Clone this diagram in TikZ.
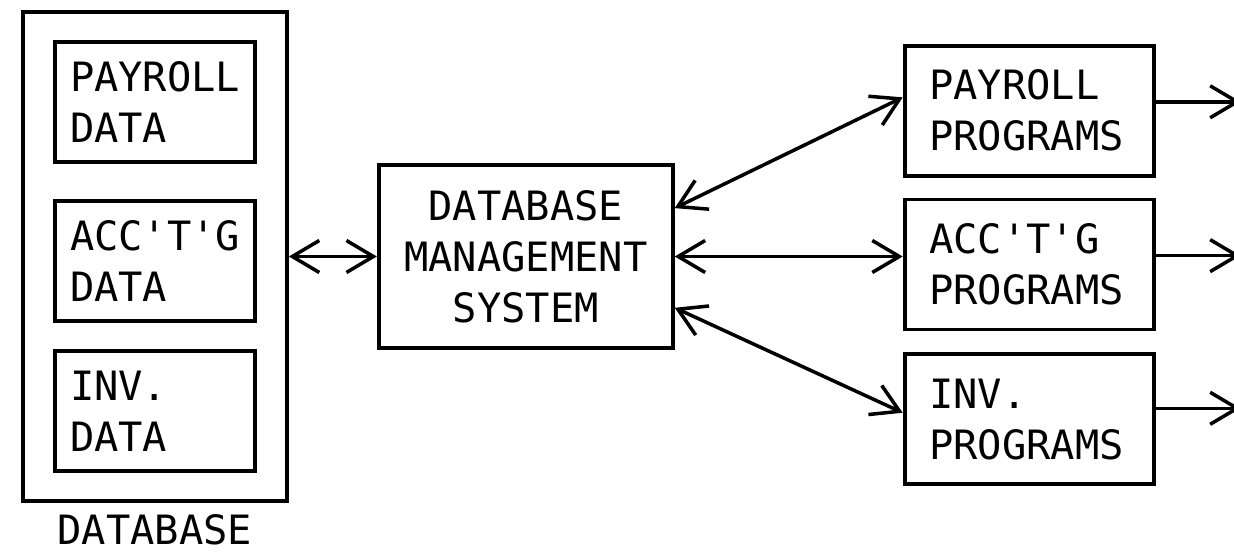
\documentclass[tikz,border=0pt]{standalone}
\usepackage{fontspec}
\setmonofont{DejaVu Sans Mono}
\usetikzlibrary{arrows.meta, positioning, fit}
\tikzset{
  box/.style={rectangle, draw, line width=2.2pt, font=\ttfamily\fontsize{23}{29}\selectfont},
  databox/.style={box, minimum width=4cm, minimum height=2.4cm, text width=3.4cm, align=left},
  progbox/.style={box, minimum width=4.98cm, minimum height=2.6cm, text width=4.0cm, align=left},
  arrow/.style={line width=2pt, -{Straight Barb[length=5.4mm, width=6.4mm]}},
  twoway/.style={line width=2pt, {Straight Barb[length=5.4mm, width=6.4mm]}-{Straight Barb[length=5.4mm, width=6.4mm]}}
}

\begin{document}
\begin{tikzpicture}[node distance=0.6cm and 1.76cm]
\useasboundingbox (0,0) rectangle (24.68,-11.06);

% Data inside the database
\node[databox] (acctdata) at (3.10,-5.22) {ACC'T'G\\ DATA};
\node[databox, above=0.7cm of acctdata] (paydata) {PAYROLL\\ DATA};
\node[databox, below=0.52cm of acctdata] (invdata) {INV.\\ DATA};

% Database
\node[box, fit=(paydata)(invdata), inner xsep=0.6cm, inner ysep=0.56cm] (db) {};
\node[below=0.12cm of db, font=\ttfamily\fontsize{23}{29}\selectfont] (dblabel) {DATABASE};

% DBMS
\node[box, right=of db, minimum width=5.88cm, minimum height=3.66cm, align=center] (dbms) {DATABASE\\ MANAGEMENT\\ SYSTEM};

% Programs
\node[progbox, right=4.56cm of dbms, yshift=-0.16cm] (acctprog) {ACC'T'G\\ PROGRAMS};
\node[progbox, above=0.4cm of acctprog] (payprog) {PAYROLL\\ PROGRAMS};
\node[progbox, below=0.42cm of acctprog] (invprog) {INV.\\ PROGRAMS};

% Outputs
\coordinate[right=1.7cm of payprog.4] (payout);
\coordinate[right=1.7cm of acctprog.4] (acctout);
\coordinate[right=1.7cm of invprog.5] (invout);

% Connections
\draw[twoway] (db.east) -- (db.east -| dbms.west);
\draw[twoway] (dbms.18) -- (payprog.174);
\draw[twoway] (dbms.east) -- (dbms.east -| acctprog.west);
\draw[twoway] (dbms.-19) -- (invprog.177);
\draw[arrow] (payprog.4) -- (payout);
\draw[arrow] (acctprog.4) -- (acctout);
\draw[arrow] (invprog.5) -- (invout);

\end{tikzpicture}
\end{document}
